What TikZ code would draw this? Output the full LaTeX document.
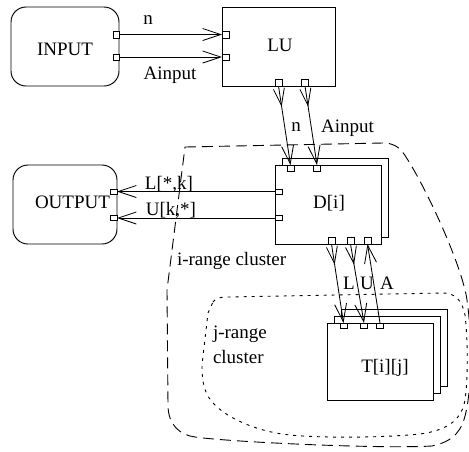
\documentclass[tikz,border=0pt]{standalone}
\usepackage{fontspec}
\setmainfont{Liberation Serif}
\usetikzlibrary{arrows.meta,decorations.markings}

\tikzset{
  box/.style={draw, line width=0.95pt, fill=white, inner sep=0pt, outer sep=0pt},
  roundbox/.style={box, rounded corners=15pt},
  port/.style={draw, line width=0.8pt, fill=white, inner sep=0pt, outer sep=0pt,
               minimum width=7pt, minimum height=6pt},
  txt/.style={inner sep=0pt, outer sep=0pt, font=\fontsize{19}{23}\selectfont},
  flow/.style={line width=0.85pt, -{Straight Barb[length=18pt,width=12pt]}},
  srcmark/.style={postaction={decorate, decoration={markings,
      mark=at position 21pt with {\arrow{Straight Barb[length=17pt,width=11pt]}}}}},
  irange/.style={line width=0.9pt, dash pattern=on 11pt off 6pt},
  jrange/.style={line width=0.9pt, dash pattern=on 3pt off 5pt},
}

\begin{document}
\begin{tikzpicture}[x=1pt, y=-1pt]
\useasboundingbox (0,0) rectangle (469,451);

% cluster outlines
\draw[irange] (185,147) -- (383,143) .. controls (393,143) and (399,147) .. (404,154)
  .. controls (425,185) and (462,265) .. (467,300)
  .. controls (472,335) and (472,385) .. (466,412)
  .. controls (462,430) and (455,441) .. (432,446)
  .. controls (380,449) and (230,442) .. (195,437)
  .. controls (180,435) and (168,425) .. (168,405)
  -- (167,290) -- cycle;
\draw[jrange] (213,302) .. controls (216,298) and (220,297) .. (228,297)
  -- (443,293) .. controls (455,293) and (462,300) .. (465,315)
  .. controls (468,340) and (468,380) .. (465,400)
  .. controls (462,418) and (450,430) .. (420,434)
  .. controls (380,438) and (320,438) .. (290,435)
  .. controls (260,432) and (230,420) .. (215,405)
  .. controls (205,395) and (202,385) .. (202,365)
  -- (208,313) -- cycle;

% process boxes
\node[roundbox, minimum width=108pt, minimum height=79pt] (input) at (65,46.5) {};
\node[box, minimum width=113pt, minimum height=79pt] (lu) at (278.5,46.5) {};
\node[roundbox, minimum width=104pt, minimum height=79pt] (output) at (65,204.5) {};
\node[box, minimum width=106pt, minimum height=79pt] (dshadow) at (335,197.5) {};
\node[box, minimum width=106pt, minimum height=79pt] (d) at (328,204.5) {};
\node[box, minimum width=106pt, minimum height=77pt] (tshadowb) at (394,347.5) {};
\node[box, minimum width=106pt, minimum height=77pt] (tshadowa) at (387,354.5) {};
\node[box, minimum width=106pt, minimum height=77pt] (t) at (380,361.5) {};

% box titles
\node[txt, anchor=base] (inputtxt) at (65,55.5) {INPUT};
\node[txt, anchor=base] (lutxt) at (280,51) {LU};
\node[txt, anchor=base] (outputtxt) at (72.5,208) {OUTPUT};
\node[txt, anchor=base] (dtxt) at (329,208.5) {D[i]};
\node[txt, anchor=base] (ttxt) at (385,372) {T[i][j]};

% ports
\node[port, minimum width=6pt, minimum height=7pt] (in1) at (116.5,34.5) {};
\node[port, minimum width=6pt, minimum height=6pt] (in2) at (116.5,57) {};
\node[port, minimum height=7pt] (lul1) at (225.5,34.5) {};
\node[port, minimum height=6pt] (lul2) at (225.5,57) {};
\node[port, minimum height=7pt] (lub1) at (278.5,82.5) {};
\node[port, minimum height=7pt] (lub2) at (305,82.5) {};
\node[port] (dt1) at (290.5,168) {};
\node[port] (dt2) at (317,168) {};
\node[port, minimum height=5pt] (dl1) at (278.5,191.5) {};
\node[port, minimum height=5pt] (dl2) at (278.5,218) {};
\node[port, minimum height=5pt] (out1) at (113.5,191.5) {};
\node[port, minimum height=5pt] (out2) at (113.5,218) {};
\node[port, minimum height=7pt] (db1) at (331.5,240.5) {};
\node[port, minimum height=7pt] (db2) at (350.5,240.5) {};
\node[port, minimum height=7pt] (db3) at (367.5,240.5) {};
\node[port, minimum height=5pt] (tt1) at (343.5,325.5) {};
\node[port, minimum height=5pt] (tt2) at (364,325.5) {};
\node[port, minimum height=5pt] (tt3) at (380,325.5) {};

% data flows
\draw[flow] (in1.east) -- (lul1.west);
\draw[flow] (in2.east) -- (lul2.west);
\draw[flow, srcmark] (lub1.south) -- (dt1.north);
\draw[flow, srcmark] (lub2.south) -- (dt2.north);
\draw[flow] (dl1.west) -- (out1.east);
\draw[flow] (dl2.west) -- (out2.east);
\draw[flow, srcmark] (db1.south) -- (tt1.north);
\draw[flow, srcmark] (db2.south) -- (tt2.north);
\draw[flow] (tt3.north) -- (db3.south);

% flow labels
\node[txt, anchor=base] (ln1) at (148,24) {n};
\node[txt, anchor=base] (la1) at (170,79) {Ainput};
\node[txt, anchor=base] (ln2) at (296,131) {n};
\node[txt, anchor=base] (la2) at (347.5,132) {Ainput};
\node[txt, anchor=base] (ll) at (169,189) {L[*,k]};
\node[txt, anchor=base] (lu2) at (171,215.5) {U[k,*]};
\node[txt, anchor=base] (lL) at (349,289) {L};
\node[txt, anchor=base] (lU) at (367,289) {U};
\node[txt, anchor=base] (lA) at (387,289) {A};

% cluster labels
\node[txt, anchor=base west] (irangetxt) at (177,265) {i-range cluster};
\node[txt, anchor=base west] (jrangetxt) at (213,338) {j-range};
\node[txt, anchor=base west] (jclustertxt) at (213,363) {cluster};
\end{tikzpicture}
\end{document}
